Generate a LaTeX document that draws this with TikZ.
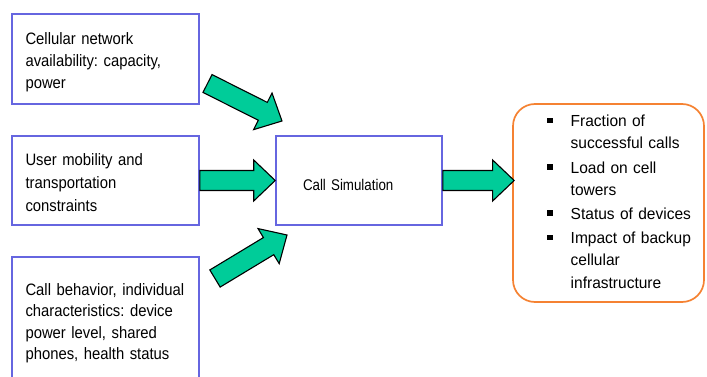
\documentclass[tikz,border=0pt]{standalone}
\usepackage{fontspec}
\setmainfont{Liberation Sans}
\newfontfamily\boxfont[FakeStretch=0.9]{Liberation Sans}
\newfontfamily\simfont[FakeStretch=0.86]{Liberation Sans}
\newfontfamily\listfont[FakeStretch=0.97]{Liberation Sans}
\usetikzlibrary{calc}
\frenchspacing
\hyphenpenalty=10000
\exhyphenpenalty=10000

\definecolor{boxblue}{RGB}{102,102,224}
\definecolor{outorange}{RGB}{245,130,50}
\definecolor{arrowgreen}{RGB}{0,204,153}

\tikzset{
  inbox/.style={draw=boxblue, line width=1.6pt, fill=white,
    text width=160pt, inner xsep=13.5pt, inner ysep=0pt, align=left},
  simbox/.style={draw=boxblue, line width=1.6pt, fill=white,
    text width=112pt, inner xsep=27pt, inner ysep=0pt, align=left,
    font=\simfont\fontsize{15.5}{18}\selectfont},
  outbox/.style={draw=outorange, line width=1.7pt, rounded corners=22pt,
    minimum width=191pt, minimum height=198pt},
  outlist/.style={inner sep=0pt, text width=130pt, align=left, anchor=base west,
    font=\listfont\fontsize{16}{22.2}\selectfont},
  blockarrow/.style={fill=arrowgreen, draw=black, line width=1.1pt, line join=miter}
}

% square bullet hanging left of an item
\newcommand\sqbul{\leavevmode\llap{\rule[3.5pt]{5.5pt}{5.5pt}\hspace{18pt}}}

% fat block arrow from tail #1 to tip #2
\newcommand\fatarrow[2]{%
  \coordinate (hb) at ($(#2)!21.5pt!(#1)$);
  \path[blockarrow]
    ($(#1)!10pt!90:(#2)$) -- ($(hb)!10pt!90:(#2)$) -- ($(hb)!20.5pt!90:(#2)$)
    -- (#2)
    -- ($(hb)!20.5pt!-90:(#2)$) -- ($(hb)!10pt!-90:(#2)$) -- ($(#1)!10pt!-90:(#2)$)
    -- cycle;
}

\begin{document}
\begin{tikzpicture}[x=1pt,y=-1pt]
  \useasboundingbox (0,0) rectangle (707,377);

  % input boxes: text height/depth place the first baseline inside the frame
  \node[inbox, text height=31pt, text depth=59pt,
        font=\boxfont\fontsize{16.5}{21.7}\selectfont] (in1) at (105.5,59)
    {Cellular network\\availability: capacity,\\power};
  \node[inbox, text height=30pt, text depth=59pt,
        font=\boxfont\fontsize{16.5}{22.8}\selectfont] (in2) at (105.5,180.5)
    {User mobility and\\transportation\\constraints};
  \node[inbox, text height=38.7pt, text depth=87.3pt,
        font=\boxfont\fontsize{16.5}{21.2}\selectfont] (in3) at (105.5,320)
    {Call behavior, individual\\characteristics: device\\power level, shared\\phones, health status};

  % simulation
  \node[simbox, text height=54pt, text depth=35pt] (sim) at (359,180.5) {Call Simulation};

  % outputs
  \node[outbox] (out) at (608.5,203) {};
  \node[outlist] (res) at (570.5,126.7)
    {\sqbul Fraction of\\successful calls\\[2pt]
     \sqbul Load on cell\\towers\\[2pt]
     \sqbul Status of devices\\[2pt]
     \sqbul Impact of backup\\cellular\\infrastructure};

  % arrow end points
  \coordinate (t1) at (207.5,83.5);
  \coordinate (p1) at (282,121);
  \coordinate (t3) at (215,278.5);
  \coordinate (p3) at (287,235);
  \coordinate (p4) at ($(sim.east -| out.west)+(2,0)$);

  \fatarrow{t1}{p1}
  \fatarrow{in2.east}{sim.west}
  \fatarrow{t3}{p3}
  \fatarrow{sim.east}{p4}
\end{tikzpicture}
\end{document}
